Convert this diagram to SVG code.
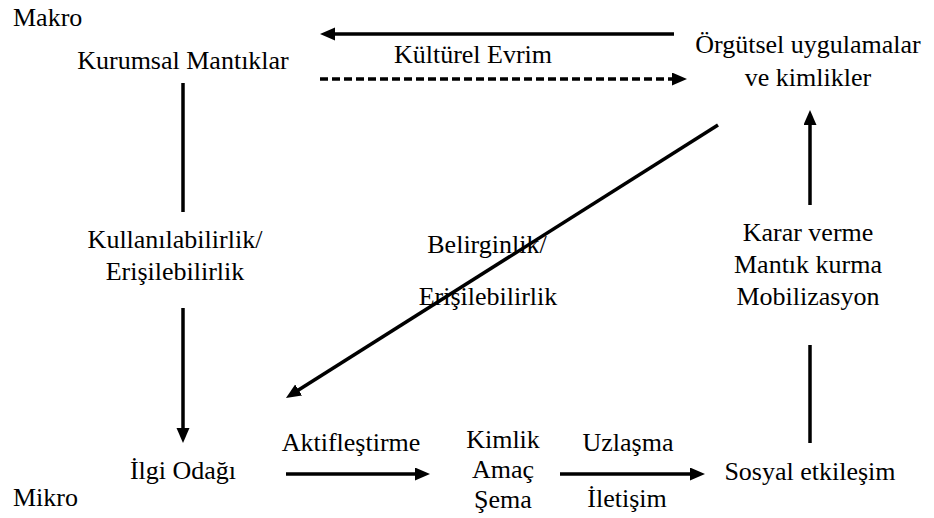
<svg xmlns="http://www.w3.org/2000/svg" width="934" height="518" viewBox="0 0 934 518">
<style>
.c{text-anchor:middle}
.ln{stroke:#000;stroke-width:3.5;fill:none}
.ds{stroke:#000;stroke-width:3.5;fill:none;stroke-dasharray:8 4}
</style>
<defs>
<marker id="ah" markerUnits="userSpaceOnUse" markerWidth="16" markerHeight="14" refX="3" refY="6.5" orient="auto">
<path d="M0,0 L15,6.5 L0,13 z" fill="#000"/>
</marker>
</defs>
<rect width="934" height="518" fill="#fff"/>
<g id="connectors">
<line class="ln" x1="674" y1="34" x2="332" y2="34" marker-end="url(#ah)"/>
<line class="ds" x1="320" y1="79" x2="675" y2="79" marker-end="url(#ah)"/>
<line class="ln" x1="183" y1="83" x2="183" y2="212"/>
<line class="ln" x1="183" y1="308" x2="183" y2="431" marker-end="url(#ah)"/>
<line class="ln" x1="718" y1="125" x2="296.1" y2="391.6" marker-end="url(#ah)"/>
<line class="ln" x1="286" y1="474" x2="418" y2="474" marker-end="url(#ah)"/>
<line class="ln" x1="560" y1="474" x2="693" y2="474" marker-end="url(#ah)"/>
<line class="ln" x1="810" y1="345" x2="810" y2="443"/>
<line class="ln" x1="810" y1="205" x2="810" y2="122" marker-end="url(#ah)"/>
</g>
<g font-family="Liberation Serif, Times New Roman, serif" font-size="26" fill="#000">
<g id="labels">
<text x="13" y="26">Makro</text>
<text x="13" y="506">Mikro</text>
<text class="c" x="473" y="63">Kültürel Evrim</text>
<text class="c" x="175" y="248">Kullanılabilirlik/</text>
<text class="c" x="175" y="280">Erişilebilirlik</text>
<text class="c" x="487" y="253">Belirginlik/</text>
<text class="c" x="488" y="305">Erişilebilirlik</text>
<text class="c" x="351" y="451">Aktifleştirme</text>
<text class="c" x="628" y="451">Uzlaşma</text>
<text class="c" x="627" y="507">İletişim</text>
<text class="c" x="808" y="241">Karar verme</text>
<text class="c" x="808" y="273">Mantık kurma</text>
<text class="c" x="808" y="305">Mobilizasyon</text>
</g>
<g id="node-kurumsal"><text class="c" x="183" y="69">Kurumsal Mantıklar</text></g>
<g id="node-orgutsel"><text class="c" x="808" y="53">Örgütsel uygulamalar</text><text class="c" x="808" y="86">ve kimlikler</text></g>
<g id="node-ilgi"><text class="c" x="183" y="479">İlgi Odağı</text></g>
<g id="node-kimlik"><text class="c" x="503" y="448">Kimlik</text><text class="c" x="503" y="478">Amaç</text><text class="c" x="503" y="508">Şema</text></g>
<g id="node-sosyal"><text class="c" x="810" y="480">Sosyal etkileşim</text></g>
</g>
</svg>
